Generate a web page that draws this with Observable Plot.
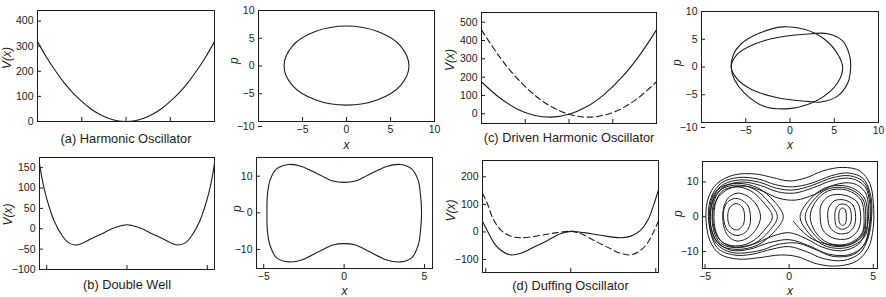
<!DOCTYPE html>
<html><head><meta charset="utf-8">
<script src="https://cdn.jsdelivr.net/npm/d3@7"></script>
<script src="https://cdn.jsdelivr.net/npm/@observablehq/plot@0.6"></script>
<style>
body{margin:0;background:#fff;}
#root{position:relative;width:886px;height:297px;overflow:hidden;background:#fff;}
#root svg{position:absolute;}
</style></head><body><div id="root"></div>
<script>
// ---------- data ----------
// (a) harmonic oscillator potential
const harmX = [-10,-9,-8,-7,-6,-5,-4,-3,-2,-1,0,1,2,3,4,5,6,7,8,9,10];
const harmV = [318,257,203,155,114,80,51,29,13,3,0,3,13,29,51,80,114,155,203,257,318];
// harmonic phase loop [x, p]
const harmLoop = [[7.1,0],[6.15,3.6],[3.55,6.2],[0,7.2],[-3.55,6.2],[-6.15,3.6],[-7.1,0],[-6.15,-3.5],[-3.55,-6.1],[0,-7.05],[3.55,-6.1],[6.15,-3.5]];
// (c) driven harmonic oscillator potential
const drivenX = [-10,-8,-6,-4,-2,0,2,4,6,8,10];
const drivenSolidV = [175,90,28,-8,-18,-2.5,38,105,197,315,458];
const drivenDashedV = [458,315,197,105,38,-2.5,-18,-8,28,90,175];
// driven phase loops [x, p]
const drivenLoopA = [[-6.64,0],[-6.4,2.2],[-5.57,4.1],[-3.3,6.2],[-0.84,7.23],[1.63,6.8],[3.9,5.0],[5.4,2.3],[5.95,-0.1],[5.4,-2.8],[3.9,-5.2],[2.0,-6.75],[-0.08,-7.5],[-2.9,-7.1],[-5.2,-4.6],[-6.3,-2.2]];
const drivenLoopB = [[-6.64,0],[-5.95,2.3],[-4.06,4.1],[-1.4,5.3],[2.4,6.0],[4.27,6.0],[5.95,4.7],[6.74,2.0],[6.85,-0.1],[6.55,-2.8],[5.4,-5.2],[3.5,-6.3],[2.0,-6.2],[-1.4,-5.55],[-4.4,-4.0],[-5.95,-2.2]];
// (b) double well potential
const wellX = [-5.45,-5.3,-5.1,-4.8,-4.5,-4.05,-3.65,-3.2,-2.8,-2.2,-1.55,-0.95,-0.3,0,0.3,0.95,1.55,2.2,2.8,3.2,3.65,4.05,4.5,4.8,5.1,5.3,5.45];
const wellV = [160,125,89,48,16,-16,-34,-40,-36,-24,-12,0,8,10,8,0,-12,-24,-36,-40,-34,-16,16,48,89,125,160];
// double well phase loop [x, p]
const wellLoop = [[4.82,0],[4.75,5],[4.6,9],[4.2,12],[3.5,13.2],[2.6,12.6],[1.5,10.3],[0.7,8.7],[0,8.3],[-0.7,8.7],[-1.5,10.3],[-2.6,12.6],[-3.4,13.2],[-4.2,12],[-4.6,9],[-4.77,5],[-4.8,0],[-4.77,-5],[-4.6,-9],[-4.2,-12.3],[-3.4,-13.4],[-2.6,-12.8],[-1.5,-10.4],[-0.7,-8.8],[0,-8.4],[0.7,-8.8],[1.5,-10.4],[2.6,-12.8],[3.5,-13.4],[4.2,-12.3],[4.6,-9],[4.75,-5]];
// (d) Duffing oscillator potential
const duffSolidX = [-5.19,-4.87,-4.48,-4.09,-3.55,-2.92,-2.15,-1.36,-0.58,0,0.78,1.75,2.92,3.5,4.1,4.58,4.87,5.16];
const duffSolidV = [38,0,-43,-67,-83,-77,-55,-31,-6,2,-2.6,-12,-21,-16,6,49,97,152];
const duffDashedX = [-5.19,-4.87,-4.58,-4.1,-3.5,-2.92,-1.75,-0.78,0,0.58,1.36,2.15,2.92,3.55,4.09,4.48,4.87,5.16];
const duffDashedV = [140,98,49,6,-16,-21,-12,-2.6,2,-6,-31,-55,-77,-83,-67,-43,0,40];
// Duffing chaotic trajectory, read as loops [x, p]
const chaosLeftLoops = [
  [[-2.65,0],[-2.72,2.2],[-2.9,3.3],[-3.15,3.8],[-3.4,3.3],[-3.58,2.2],[-3.65,0],[-3.58,-2.2],[-3.4,-3.3],[-3.15,-3.8],[-2.9,-3.3],[-2.72,-2.2]],
  [[-2.3,0],[-2.45,3.2],[-2.9,5],[-3.3,5.2],[-3.7,4],[-3.9,1.5],[-3.85,-1.8],[-3.6,-4.3],[-3.1,-5.4],[-2.6,-4.5],[-2.35,-2.5]],
  [[-1.7,0],[-1.95,3.5],[-2.5,6],[-3.1,6.8],[-3.6,5.5],[-3.9,2.5],[-3.9,-2.5],[-3.6,-5.7],[-3.1,-7],[-2.5,-6.2],[-1.95,-3.5]],
  [[-1.0,0],[-1.5,4],[-2.3,7.5],[-3.2,8.6],[-4,7.3],[-4.4,3.5],[-4.4,-3.5],[-4,-7.2],[-3.2,-8.4],[-2.3,-7.4],[-1.5,-4]],
  [[-0.7,0],[-1.2,4.2],[-2.1,8],[-3.15,9.1],[-4.05,7.8],[-4.5,3.8],[-4.5,-3.8],[-4.05,-7.7],[-3.15,-8.9],[-2.1,-7.8],[-1.2,-4.2]],
  [[-0.35,0],[-0.9,4.5],[-1.9,8.4],[-3.1,9.6],[-4.1,8.3],[-4.6,4],[-4.6,-4],[-4.1,-8.2],[-3.1,-9.4],[-1.9,-8.2],[-0.9,-4.4]]
];
const chaosRightLoops = [
  [[3.4,0],[3.37,1.6],[3.28,2.3],[3.18,2.5],[3.05,2.2],[2.97,1.4],[2.95,0],[2.97,-1.4],[3.06,-2.2],[3.18,-2.5],[3.3,-2.2],[3.38,-1.4]],
  [[3.7,0],[3.6,2.5],[3.3,3.6],[2.95,3.4],[2.75,1.8],[2.72,-0.5],[2.8,-2.6],[3.1,-3.6],[3.45,-3.1],[3.65,-1.8]],
  [[3.95,0],[3.8,3.3],[3.3,4.8],[2.7,4.6],[2.35,2.5],[2.3,-0.5],[2.45,-3.2],[2.9,-4.8],[3.5,-4.6],[3.85,-2.8]],
  [[4.25,0],[4.05,4.2],[3.3,6.2],[2.4,6],[1.9,3.4],[1.85,-0.3],[2.0,-3.8],[2.6,-6.1],[3.5,-6.3],[4.1,-3.8]],
  [[4.45,0],[4.25,5],[3.4,7.7],[2.3,7.4],[1.55,4.2],[1.25,0],[1.55,-4.3],[2.3,-7.5],[3.4,-7.9],[4.3,-5]],
  [[4.55,0],[4.35,5.3],[3.45,8.2],[2.25,7.9],[1.4,4.5],[0.95,0],[1.4,-4.6],[2.25,-8],[3.45,-8.3],[4.4,-5.3]],
  [[4.65,0],[4.45,5.6],[3.5,8.7],[2.2,8.4],[1.2,4.8],[0.65,0],[1.2,-4.9],[2.2,-8.5],[3.5,-8.8],[4.5,-5.6]]
];
const chaosBigLoops = [
  [[-4.55,0],[-4.3,5],[-3.6,8],[-2.6,8.8],[-1.6,7.4],[-0.6,5.3],[0.4,4.8],[1.5,6.4],[2.7,9.2],[3.8,9.6],[4.5,7.2],[4.72,2.5],[4.6,-3.5],[4.1,-8],[3.1,-9.8],[2,-8.8],[1,-6.3],[0,-4.6],[-1,-5.6],[-2.2,-8],[-3.4,-8.6],[-4.2,-6.2]],
  [[-4.7,0],[-4.45,5.5],[-3.8,8.8],[-2.8,10],[-1.7,9],[-0.7,7.2],[0.3,6.8],[1.4,8.3],[2.6,10.5],[3.7,11],[4.5,8.7],[4.8,3.5],[4.75,-3],[4.4,-8.5],[3.5,-11],[2.3,-10.7],[1.2,-8.4],[0,-6.6],[-1.2,-7.5],[-2.4,-9.4],[-3.5,-9.6],[-4.3,-7],[-4.65,-3]],
  [[-4.75,0],[-4.55,5.8],[-3.9,9.3],[-2.9,10.6],[-1.75,9.9],[-0.75,8.2],[0.25,7.7],[1.35,9],[2.55,11.2],[3.6,11.8],[4.45,9.9],[4.83,4.8],[4.82,-1.5],[4.55,-7.2],[3.85,-10.8],[2.6,-11.4],[1.6,-9.5],[0.5,-7.6],[-0.6,-7.9],[-1.8,-9.8],[-3.4,-10.3],[-4.3,-7.9],[-4.7,-3.5]],
  [[-4.8,0],[-4.6,6],[-4,9.8],[-3,11.3],[-1.8,10.8],[-0.8,9.2],[0.2,8.6],[1.3,9.6],[2.5,11.8],[3.5,12.6],[4.4,11],[4.85,6],[4.9,0],[4.7,-6],[4.2,-10.5],[3.2,-12.6],[2,-12],[1,-10],[0,-8.6],[-1,-9.3],[-2.2,-10.8],[-3.3,-11],[-4.3,-8.8]],
  [[-4.95,0],[-4.8,5.5],[-4.3,9.5],[-3.3,12.0],[-2,12.3],[-1,11.3],[0,10.3],[1,11.2],[2,13.2],[3.2,14.2],[4.2,13.2],[4.8,9.5],[5.0,4],[5.0,-3],[4.7,-9],[4,-12.8],[2.8,-14.2],[1.6,-13.5],[0.5,-11.5],[-0.5,-11],[-1.8,-11.8],[-3,-12.2],[-4.1,-10.8],[-4.7,-7]]
];
const chaosTail = [[0.25,-1.3],[0.7,-3.8],[1.4,-6.5],[2.4,-8.0],[3.5,-8.1],[4.3,-5.5],[4.55,-1]];
// tick values and captions
const ticksPotHO = [0,100,200,300,400];
const ticksPotDriven = [0,100,200,300,400,500];
const ticksPotWell = [-100,-50,0,50,100,150];
const ticksPotDuff = [-100,0,100,200];
const ticksX5 = [-5,0,5];
const ticksPhase10 = [-10,-5,0,5,10];
const ticksPhaseP = [-10,0,10];
const captions = ["(a) Harmonic Oscillator","(c) Driven Harmonic Oscillator","(b) Double Well","(d) Duffing Oscillator"];

// ---------- drawing ----------
const root = document.getElementById("root");
const FONT = '"Liberation Sans", Arial, Helvetica, sans-serif';
const INK = "#1c1c1c";
const ML = 50, MR = 10, MT = 8, MB = 40;

function pts(arr) { return arr.map(([x, y]) => ({x, y})); }
function series(xs, ys) { return xs.map((x, i) => ({x, y: ys[i]})); }
function loops(list) { return list.flatMap((l, i) => l.map(([x, y]) => ({x, y, i}))); }

function panel(frame, xDomain, yDomain, marks) {
  const [l, t, r, b] = frame;
  const svg = Plot.plot({
    width: r - l + ML + MR, height: b - t + MT + MB,
    marginLeft: ML, marginRight: MR, marginTop: MT, marginBottom: MB,
    style: {background: "transparent", fontFamily: FONT, fontSize: "10.5px", color: INK, overflow: "visible"},
    x: {domain: xDomain}, y: {domain: yDomain},
    marks: [Plot.frame({stroke: INK, strokeWidth: 1}), ...marks]
  });
  svg.style.left = (l - ML) + "px";
  svg.style.top = (t - MT) + "px";
  root.appendChild(svg);
}
const yAxis = (ticks, o = {}) => Plot.axisY(ticks, {tickSize: -4, tickPadding: 8, label: null, ...o});
const xAxis = (ticks, o = {}) => Plot.axisX(ticks, {tickSize: -4, tickPadding: 8, label: null, ...o});
const xInner = (ticks) => Plot.axisX(ticks, {tickSize: -4, tickFormat: () => "", label: null});
const vLabel = (dx, dy) => Plot.text(["V(x)"], {text: d => d, frameAnchor: "left", dx, dy, rotate: -90, fontStyle: "italic", fontSize: 12, fill: INK, lineAnchor: "middle"});
const pLabel = (dx, dy) => Plot.text(["p"], {text: d => d, frameAnchor: "left", dx, dy, rotate: -90, fontStyle: "italic", fontSize: 12, fill: INK, lineAnchor: "middle"});
const xLabel = (dy) => Plot.text(["x"], {text: d => d, frameAnchor: "bottom", dy, fontStyle: "italic", fontSize: 12, fill: INK, lineAnchor: "middle"});
const caption = (s, dy) => Plot.text([s], {text: d => d, frameAnchor: "bottom", dy, fontSize: 12.8, fill: INK, lineAnchor: "middle"});
const lineOpts = {x: "x", y: "y", stroke: INK, strokeWidth: 1.1};
const hideMinus10 = d => d === -10 ? "" : d3.format("")(d).replace("-", "\u2212");

// (a) potential
panel([37, 10, 214, 121], [-10, 10], [0, 442], [
  yAxis(ticksPotHO), xInner(ticksX5),
  Plot.line(series(harmX, harmV), {...lineOpts, curve: "catmull-rom"}),
  vLabel(-30, 3), caption(captions[0], 17)
]);
// (a) phase
panel([258, 10, 434, 121], [-10, 10], [-10, 10], [
  yAxis([-5, 0, 5, 10]), yAxis([-10], {dy: 5}), xAxis(ticksPhase10, {tickFormat: hideMinus10}),
  Plot.line(pts(harmLoop), {...lineOpts, curve: "catmull-rom-closed"}),
  pLabel(-24, -2), xLabel(24)
]);
// (c) potential
panel([481, 12, 656, 123], [-10, 10], [-53, 553], [
  yAxis(ticksPotDriven), xInner(ticksX5),
  Plot.line(series(drivenX, drivenSolidV), {...lineOpts, curve: "catmull-rom"}),
  Plot.line(series(drivenX, drivenDashedV), {...lineOpts, curve: "catmull-rom", strokeDasharray: "6,3.5"}),
  vLabel(-31, 3), caption(captions[1], 14.5)
]);
// (c) phase
panel([701, 11, 878, 122], [-10, 10], [-10, 10], [
  yAxis([-5, 0, 5, 10]), yAxis([-10], {dy: 5}), xAxis(ticksPhase10, {tickFormat: hideMinus10}),
  Plot.line(pts(drivenLoopA), {...lineOpts, curve: "catmull-rom-closed"}),
  Plot.line(pts(drivenLoopB), {...lineOpts, curve: "catmull-rom-closed"}),
  pLabel(-24, -1), xLabel(23)
]);
// (b) potential
panel([39, 157, 214, 269], [-5.45, 5.45], [-100, 175], [
  yAxis(ticksPotWell), xInner(ticksX5),
  Plot.line(series(wellX, wellV), {...lineOpts, curve: "catmull-rom"}),
  vLabel(-31, 12), caption(captions[2], 15)
]);
// (b) phase
panel([256, 157, 432, 268], [-5.45, 5.5], [-15.2, 15.1], [
  yAxis(ticksPhaseP), xAxis(ticksX5),
  Plot.line(pts(wellLoop), {...lineOpts, curve: "catmull-rom-closed"}),
  pLabel(-19, -1), xLabel(23)
]);
// (d) potential
panel([482, 160, 658, 272], [-5.19, 5.16], [-147, 259], [
  yAxis(ticksPotDuff), xInner(ticksX5),
  Plot.line(series(duffSolidX, duffSolidV), {...lineOpts, curve: "catmull-rom"}),
  Plot.line(series(duffDashedX, duffDashedV), {...lineOpts, curve: "catmull-rom", strokeDasharray: "6,3.5"}),
  vLabel(-31, 5), caption(captions[3], 13.5)
]);
// (d) phase (chaotic)
panel([702, 161, 877, 268], [-5.15, 5.25], [-14.9, 15.9], [
  yAxis(ticksPhaseP), xAxis(ticksX5),
  Plot.line(loops(chaosLeftLoops), {...lineOpts, z: "i", strokeWidth: 1, curve: "catmull-rom-closed"}),
  Plot.line(loops(chaosRightLoops), {...lineOpts, z: "i", strokeWidth: 1, curve: "catmull-rom-closed"}),
  Plot.line(loops(chaosBigLoops), {...lineOpts, z: "i", strokeWidth: 1, curve: "catmull-rom-closed"}),
  Plot.line(pts(chaosTail), {...lineOpts, strokeWidth: 1, curve: "catmull-rom"}),
  pLabel(-24, 2), xLabel(22.5)
]);
</script></body></html>
